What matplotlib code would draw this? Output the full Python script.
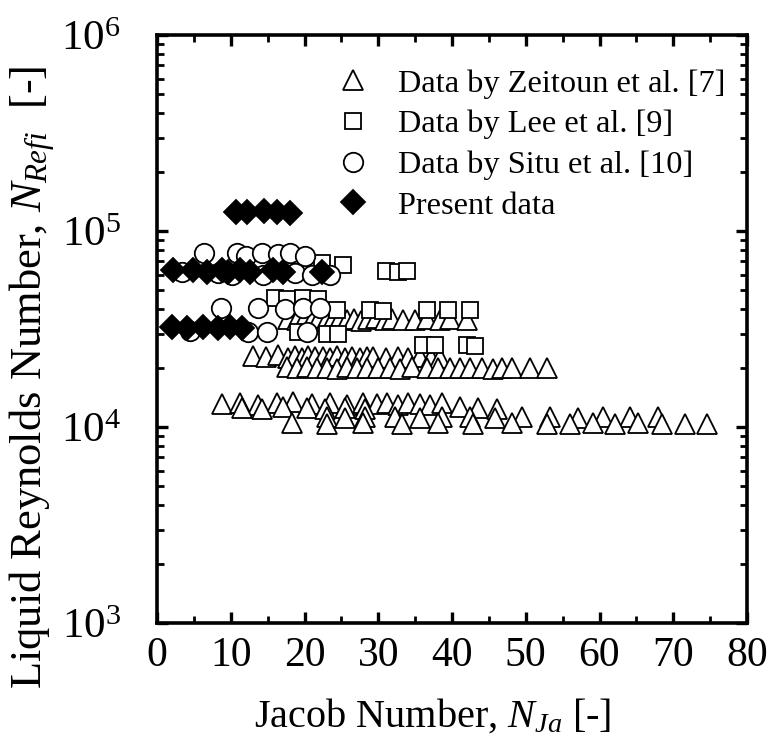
import matplotlib
matplotlib.use("Agg")
import matplotlib.pyplot as plt
from matplotlib.ticker import MultipleLocator, LogLocator, NullFormatter

plt.rcParams['font.family'] = ['Liberation Serif', 'DejaVu Serif']
plt.rcParams['mathtext.fontset'] = 'custom'
plt.rcParams['mathtext.rm'] = 'Liberation Serif'
plt.rcParams['mathtext.it'] = 'Liberation Serif:italic'

# Zeitoun et al. [7] - triangles
zeit_x = [17.8, 19.0, 20.1, 21.0, 22.0, 22.9, 23.9, 24.8, 25.8, 26.7, 27.7, 28.6, 29.7, 30.9, 31.9, 33.4, 35.0, 36.6, 38.4, 39.7, 42.0,
          13.0, 14.8, 16.4, 17.8, 18.7, 19.7, 20.5, 21.4, 22.5, 23.5, 24.4, 25.5, 26.4, 27.5, 28.5, 29.3, 31.1, 32.7, 34.1, 35.7, 37.2, 38.4,
          17.6, 19.0, 20.3, 21.7, 23.1, 24.4, 25.8, 27.1, 28.5, 30.0, 31.6, 32.9, 34.6, 36.6, 38.1, 39.7, 41.1, 42.4, 44.1, 45.6, 46.8, 48.1, 50.6, 52.9,
          8.8, 11.3, 13.7, 16.3, 18.4, 21.0, 23.5, 25.8, 27.9, 29.8, 31.2, 32.7, 34.0, 35.7, 37.0, 38.6,
          11.5, 14.2, 17.1, 20.3, 22.8, 25.5, 28.2, 41.1, 43.5, 46.1,
          23.1, 25.5, 28.2, 32.3, 35.7, 38.6, 42.4, 45.8, 49.5, 53.3, 57.1, 60.5, 64.1, 67.9,
          18.3, 23.1, 27.9, 33.2, 38.1, 42.8, 48.1, 52.9, 56.0, 59.1, 62.1, 65.2, 68.5, 71.6, 74.6]
zeit_y = [35500, 35000, 36000, 35200, 35800, 34800, 35500, 36000, 35000, 35600, 34900, 35400, 35800, 35100, 35500, 35000, 35300, 35600, 35000, 35400, 35000,
          23000, 22800, 23200, 22600, 23000, 22500, 23100, 22700, 22900, 22400, 23000, 22600, 22800, 22500, 22900, 22700, 22600, 22800, 22500, 22700, 22600, 22400,
          20200, 19900, 20300, 20000, 20100, 19800, 20200, 20000, 19900, 20100, 20000, 19800, 20200, 20000, 19900, 20100, 20000, 19900, 20000, 19800, 20100, 19900, 20000, 19900,
          13100, 13300, 13000, 13200, 13400, 13100, 13300, 13000, 13200, 13100, 13300, 13000, 13200, 13100, 13000, 13200,
          12500, 12400, 12600, 12500, 12300, 12500, 12400, 12600, 12500, 12400,
          11200, 11100, 11300, 11200, 11100, 11200, 11300, 11100, 11200, 11200, 11100, 11300, 11200, 11300,
          10500, 10400, 10500, 10400, 10500, 10400, 10500, 10400, 10400, 10500, 10400, 10500, 10400, 10400, 10400]

# Lee et al. [9] - squares
lee_x = [22.4, 25.2, 31.1, 32.7, 33.9, 16.0, 17.6, 19.8, 21.8, 24.4, 28.9, 30.6, 36.6, 39.5, 42.4,
         19.1, 23.1, 24.5, 36.1, 37.7, 42.0, 43.1]
lee_y = [69000, 67000, 62500, 62000, 62500, 45500, 45000, 45500, 45000, 39500, 39500, 39000, 39500, 39500, 39500,
         30500, 30000, 30000, 26200, 26300, 26200, 26000]

# Situ et al. [10] - circles
situ_x = [6.4, 10.8, 12.1, 14.2, 16.4, 18.0, 20.1, 3.4, 8.3, 10.2, 14.4, 18.7, 21.0, 23.5,
          8.7, 13.7, 17.4, 19.8, 22.1, 4.5, 12.3, 14.9, 20.3]
situ_y = [77000, 77000, 75000, 77000, 76000, 77000, 75000, 62000, 61000, 60000, 60000, 61000, 60000, 60000,
          40500, 40500, 40000, 40500, 40500, 31000, 30500, 30500, 30500]

# Present data - diamonds
pres_x = [10.7, 12.2, 14.5, 16.3, 18.0, 2.2, 4.9, 6.8, 8.8, 9.6, 11.3, 12.6, 15.7, 17.1, 22.4,
          2.0, 4.1, 6.2, 8.3, 9.9, 11.5]
pres_y = [125000, 125000, 126000, 125000, 124000, 63000, 63000, 62000, 63000, 62000, 63000, 62000, 63000, 62000, 62000,
          32500, 32000, 32500, 32000, 32500, 32000]

fig = plt.figure(figsize=(7.8, 7.55), dpi=100)
ax = fig.add_axes([0.2013, 0.1748, 0.7564, 0.7788])

mew = 1.3
ax.plot(zeit_x, zeit_y, '^', ms=14.5, mfc='white', mec='black', mew=mew, ls='none', label='Data by Zeitoun et al. [7]')
ax.plot(lee_x, lee_y, 's', ms=12, mfc='white', mec='black', mew=mew, ls='none', label='Data by Lee et al. [9]')
ax.plot(situ_x, situ_y, 'o', ms=14, mfc='white', mec='black', mew=mew, ls='none', label='Data by Situ et al. [10]')
ax.plot(pres_x, pres_y, 'D', ms=12.5, mfc='black', mec='black', mew=mew, ls='none', label='Present data')

ax.set_yscale('log')
ax.set_xlim(0, 80)
ax.set_ylim(1e3, 1e6)
ax.xaxis.set_major_locator(MultipleLocator(10))
ax.xaxis.set_minor_locator(MultipleLocator(5))
ax.yaxis.set_major_locator(LogLocator(base=10))
ax.yaxis.set_minor_locator(LogLocator(base=10, subs=range(2, 10)))
ax.yaxis.set_minor_formatter(NullFormatter())

for s in ax.spines.values():
    s.set_linewidth(2.6)
ax.tick_params(which='both', direction='in', top=True, right=True)
ax.tick_params(which='major', length=8, width=2.4)
ax.tick_params(which='minor', length=5, width=2.0)
ax.tick_params(axis='x', which='major', labelsize=30, pad=10)
ax.tick_params(axis='y', which='major', labelsize=31, pad=26)

ax.set_xlabel(r'Jacob Number, $N_{Ja}$ [-]', fontsize=29)
ax.set_ylabel(r'Liquid Reynolds Number, $N_{Refi}$  [-]', fontsize=32)
ax.xaxis.set_label_coords(0.468, -0.125)
ax.yaxis.set_label_coords(-0.17, 0.418)

ax.legend(loc='upper left', bbox_to_anchor=(0.305, 0.942), frameon=False, fontsize=23.3,
          borderpad=0, borderaxespad=0, handlelength=1.0, handletextpad=0.9,
          labelspacing=0.34, markerscale=1.0)

fig.savefig('out.png', dpi=100)
